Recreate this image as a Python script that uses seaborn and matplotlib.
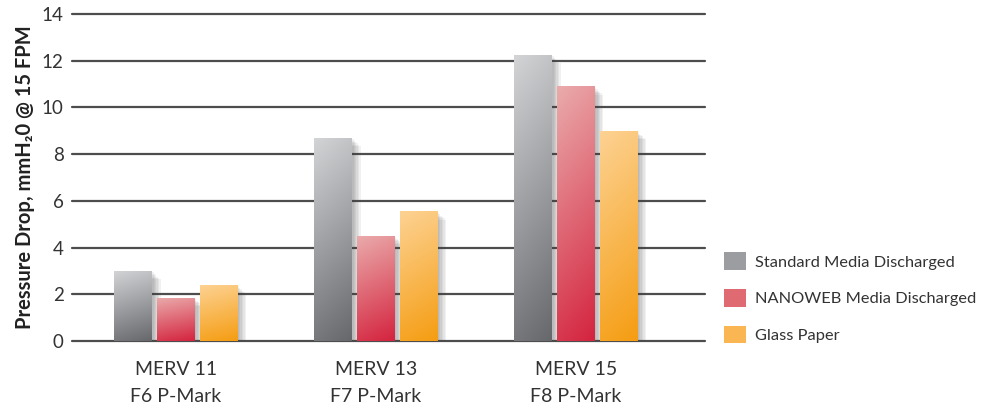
import numpy as np
import pandas as pd
import seaborn as sns
import matplotlib.pyplot as plt
import matplotlib.patheffects as pe
from matplotlib.patches import Patch
from matplotlib.colors import to_rgb

# Chart data
categories = ['MERV 11\nF6 P-Mark', 'MERV 13\nF7 P-Mark', 'MERV 15\nF8 P-Mark']
series = ['Standard Media Discharged', 'NANOWEB Media Discharged', 'Glass Paper']
standard = [3.0, 8.7, 12.25]
nanoweb = [1.85, 4.5, 10.9]
glass = [2.4, 5.55, 9.0]
y_ticks = [0, 2, 4, 6, 8, 10, 12, 14]

# light (top) and dark (bottom) ends of each bar gradient
light = ['#d3d4d6', '#eaabab', '#fdd293']
dark = ['#67686c', '#d4243f', '#f59d12']
mid = ['#9c9da1', '#e06a72', '#f9b652']

df = pd.DataFrame({
    'category': categories * 3,
    'series': [s for s in series for _ in categories],
    'value': standard + nanoweb + glass,
})

sns.set_theme(style='white')
plt.rcParams['font.family'] = ['Lato', 'DejaVu Sans']

fig = plt.figure(figsize=(9.92, 4.09), dpi=100)
ax = fig.add_axes([0.0726, 0.166, 0.638, 0.8])

sns.barplot(data=df, x='category', y='value', hue='series', hue_order=series,
            palette=mid, width=0.64, gap=0.11, legend=False, ax=ax,
            edgecolor='none', linewidth=0)

# soft shadow: several faint offset copies
shadow = [pe.SimplePatchShadow(offset=(d, -d), shadow_rgbFace='#444444', alpha=0.07)
          for d in (1, 2, 3, 4, 5, 6)]

# gradient fill on each bar
n = 64
yy, xx = np.mgrid[0:1:n * 1j, 0:1:n * 1j]
t = np.clip(0.85 * (1 - yy) + 0.15 * xx, 0, 1)
for i, container in enumerate(ax.containers):
    c0 = np.array(to_rgb(light[i]))
    c1 = np.array(to_rgb(dark[i]))
    img = c0[None, None, :] * (1 - t[..., None]) + c1[None, None, :] * t[..., None]
    for bar in container:
        bar.set_path_effects(shadow + [pe.Normal()])
        bar.set_zorder(2)
        x0, y0 = bar.get_x(), bar.get_y()
        w, h = bar.get_width(), bar.get_height()
        im = ax.imshow(img, extent=(x0, x0 + w, y0, y0 + h), origin='lower',
                       aspect='auto', zorder=3, interpolation='bilinear')
        im.set_clip_path(bar)

ax.set_xlim(-0.52, 2.645)
ax.set_ylim(0, 14)
ax.set_yticks(y_ticks)
ax.yaxis.grid(True, color='#4d4d4d', linewidth=1.6)
for gl in ax.get_ygridlines():
    gl.set_clip_on(False)
ax.set_axisbelow(True)
for s in ax.spines.values():
    s.set_visible(False)

ax.tick_params(axis='y', length=0, pad=6, labelsize=13.5, labelcolor='#333333')
ax.tick_params(axis='x', length=0, pad=14, labelsize=14, labelcolor='#333333')
for lbl in ax.get_xticklabels():
    lbl.set_linespacing(1.75)

ax.set_xlabel('')
ax.set_ylabel('Pressure Drop, mmH₂0 @ 15 FPM', fontsize=14.5, fontweight='bold',
              color='#222222', labelpad=5)

handles = [Patch(facecolor=c, edgecolor='none') for c in mid]
fig.legend(handles, series, loc='center left', bbox_to_anchor=(0.722, 0.272),
           frameon=False, fontsize=11.8, handlelength=1.3, handleheight=1.3,
           handletextpad=0.55, labelspacing=1.15, borderpad=0, labelcolor='#333333')

fig.savefig('out.png', dpi=100)
